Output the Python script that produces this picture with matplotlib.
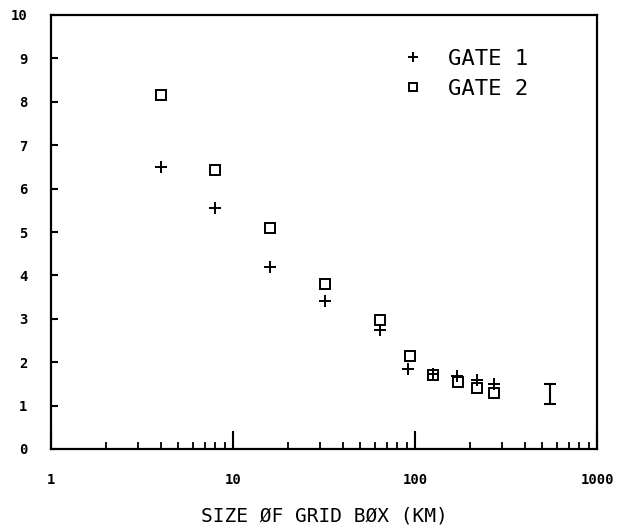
import matplotlib
matplotlib.use("Agg")
import matplotlib.pyplot as plt
from matplotlib.ticker import LogLocator, FixedLocator, NullFormatter

# Data
gate1_x = [4, 8, 16, 32, 64, 92, 125, 170, 218, 272]
gate1_y = [6.50, 5.56, 4.19, 3.42, 2.75, 1.85, 1.72, 1.68, 1.60, 1.49]
gate2_x = [4, 8, 16, 32, 64, 94, 125, 172, 218, 273]
gate2_y = [8.16, 6.43, 5.10, 3.80, 2.98, 2.15, 1.71, 1.55, 1.41, 1.30]
err_x = [552]
err_y = [1.27]
err_half = [0.23]
y_ticks = list(range(0, 11))
x_ticks = [1, 10, 100, 1000]
x_ticklabels = ["1", "10", "100", "1000"]
series_labels = ["GATE 1", "GATE 2"]
x_label = "SIZE ØF GRID BØX (KM)"

fig = plt.figure(figsize=(6.21, 5.29), dpi=100)
ax = fig.add_axes([51/621, 1-449/529, (597-51)/621, (449-15)/529])

ax.plot(gate1_x, gate1_y, linestyle="none", marker="+", color="black",
        markersize=8, markeredgewidth=1.4, label=series_labels[0])
ax.plot(gate2_x, gate2_y, linestyle="none", marker="s", color="black",
        markerfacecolor="none", markersize=6.5, markeredgewidth=1.4,
        label=series_labels[1])
ax.errorbar(err_x, err_y, yerr=err_half, fmt="none", ecolor="black",
            elinewidth=1.5, capsize=4, capthick=1.5)

ax.set_xscale("log")
ax.set_xlim(1, 1000)
ax.set_ylim(0, 10)

mono = "DejaVu Sans Mono"
ax.xaxis.set_major_locator(FixedLocator(x_ticks))
ax.set_xticklabels(x_ticklabels, fontfamily=mono, fontweight="bold", fontsize=10)
ax.xaxis.set_minor_locator(LogLocator(base=10, subs=range(2, 10)))
ax.xaxis.set_minor_formatter(NullFormatter())
ax.set_yticks(y_ticks)
ax.set_yticklabels([str(v) for v in y_ticks], fontfamily=mono,
                   fontweight="bold", fontsize=10)

ax.tick_params(axis="x", which="major", direction="in", length=13, width=1.5,
               pad=17, top=False)
ax.tick_params(axis="x", which="minor", direction="in", length=5, width=1.3,
               top=False)
ax.tick_params(axis="y", which="major", direction="in", length=5, width=1.5,
               pad=17, right=False)
for sp in ax.spines.values():
    sp.set_linewidth(1.6)

ax.set_xlabel(x_label, fontfamily=mono, fontsize=14, labelpad=14)

leg = ax.legend(loc="center left", bbox_to_anchor=(0.643, 0.864),
                frameon=False, prop={"family": mono, "size": 16},
                handlelength=1.0, handletextpad=1.05, labelspacing=0.45,
                borderpad=0, borderaxespad=0, markerscale=0.85)

fig.savefig("out.png", dpi=100)
